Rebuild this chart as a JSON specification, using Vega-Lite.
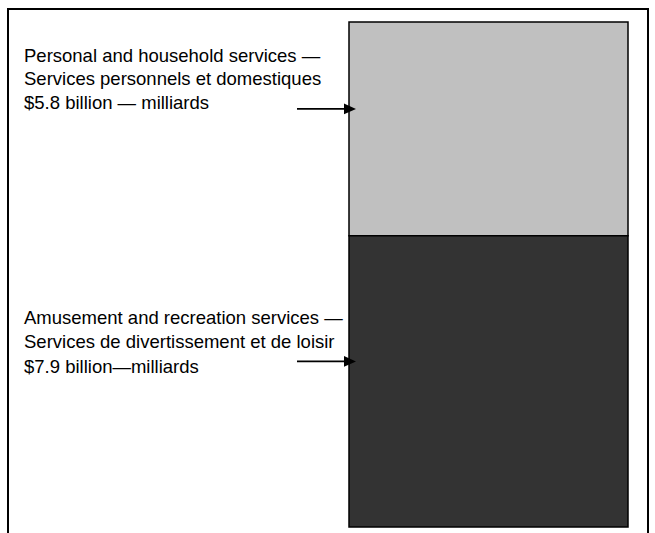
{
  "$schema": "https://vega.github.io/schema/vega-lite/v6.json",
  "width": 640,
  "height": 540,
  "autosize": {"type": "none"},
  "padding": {"left": 8, "top": 9, "right": 7, "bottom": 0},
  "background": "white",
  "config": {"view": {"stroke": "black", "strokeWidth": 2}, "font": "Liberation Sans"},
  "data": {
    "values": [
      {"category": "Personal and household services", "value": 5.8, "label": "Personal and household services —\nServices personnels et domestiques\n$5.8 billion — milliards"},
      {"category": "Amusement and recreation services", "value": 7.9, "label": "Amusement and recreation services —\nServices de divertissement et de loisir\n$7.9 billion—milliards"}
    ]
  },
  "transform": [
    {"stack": "value", "groupby": [], "sort": [{"field": "category", "order": "ascending"}], "as": ["v0", "v1"]},
    {"calculate": "(datum.v0 + datum.v1) / 2", "as": "mid"}
  ],
  "encoding": {
    "x": {"datum": "Services", "type": "nominal", "scale": {"paddingInner": 0, "paddingOuter": 0.64695, "align": 0.9446}, "axis": null}
  },
  "layer": [
    {
      "mark": {"type": "bar", "stroke": "black", "strokeWidth": 1.5},
      "encoding": {
        "y": {"field": "v0", "type": "quantitative", "scale": {"domain": [-0.5968, 14.052], "nice": false, "zero": false}, "axis": null},
        "y2": {"field": "v1"},
        "color": {"field": "category", "type": "nominal", "scale": {"domain": ["Personal and household services", "Amusement and recreation services"], "range": ["#c0c0c0", "#333333"]}, "legend": null}
      }
    },
    {
      "mark": {"type": "rule", "stroke": "black", "strokeWidth": 1.6, "xOffset": -52, "x2Offset": -4, "yOffset": -20},
      "encoding": {
        "x": {"datum": "Services", "type": "nominal", "bandPosition": 0},
        "x2": {"datum": "Services", "bandPosition": 0},
        "y": {"field": "mid", "type": "quantitative"}
      }
    },
    {
      "mark": {"type": "point", "shape": "M-1,-0.45L0,0L-1,0.45Z", "size": 576, "filled": true, "color": "black", "opacity": 1, "strokeWidth": 0, "xOffset": 7, "yOffset": -20},
      "encoding": {
        "x": {"datum": "Services", "type": "nominal", "bandPosition": 0},
        "y": {"field": "mid", "type": "quantitative"}
      }
    },
    {
      "transform": [{"filter": "datum.category === 'Personal and household services'"}],
      "mark": {"type": "text", "align": "left", "baseline": "alphabetic", "dx": -325, "dy": -67, "fontSize": 18.5, "lineHeight": 23.5, "lineBreak": "\n", "font": "Liberation Sans", "color": "black"},
      "encoding": {
        "x": {"datum": "Services", "type": "nominal", "bandPosition": 0},
        "y": {"field": "mid", "type": "quantitative"},
        "text": {"field": "label", "type": "nominal"}
      }
    },
    {
      "transform": [{"filter": "datum.category === 'Amusement and recreation services'"}],
      "mark": {"type": "text", "align": "left", "baseline": "alphabetic", "dx": -325, "dy": -57.5, "fontSize": 18.5, "lineHeight": 24.5, "lineBreak": "\n", "font": "Liberation Sans", "color": "black"},
      "encoding": {
        "x": {"datum": "Services", "type": "nominal", "bandPosition": 0},
        "y": {"field": "mid", "type": "quantitative"},
        "text": {"field": "label", "type": "nominal"}
      }
    }
  ]
}
